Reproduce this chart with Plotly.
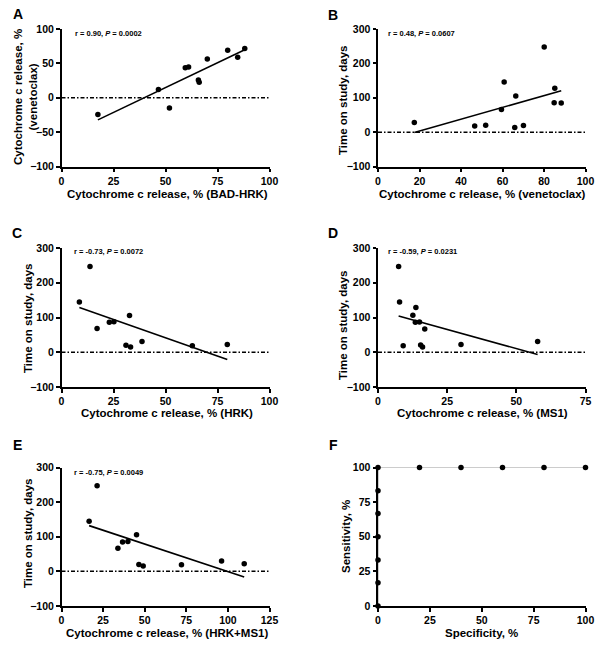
import numpy as np
import plotly.graph_objects as go

W, H = 604, 650

# ---------------- data ----------------
# Panel A: BAD-HRK vs venetoclax cytochrome c release (%)
a_x = [17.5, 46.6, 51.9, 59.5, 61.1, 65.8, 66.2, 70.1, 79.9, 84.7, 88.1]
a_y = [-24.2, 12.0, -14.9, 43.8, 44.7, 25.7, 22.7, 56.5, 69.2, 58.9, 71.6]
# Panel B: venetoclax release vs time on study (days)
b_x = [17.5, 46.6, 51.9, 59.5, 60.8, 65.9, 66.4, 70.1, 80.1, 85.2, 84.9, 88.3]
b_y = [28, 17.5, 20, 66, 145.6, 13.6, 105, 19.4, 247.6, 128, 85.4, 84.5]
# Panel C: HRK release vs time on study
c_x = [8.6, 13.7, 17.1, 23.0, 25.2, 32.7, 31.0, 33.2, 38.7, 62.9, 79.7]
c_y = [144.8, 246.5, 68, 86, 88, 106, 20, 15, 30.7, 19, 22]
# Panel D: MS1 release vs time on study
d_x = [7.45, 7.8, 9.1, 12.6, 13.7, 13.5, 15.0, 15.4, 16.1, 16.9, 30.0, 57.7]
d_y = [246.5, 144.8, 19, 106.5, 128.5, 86, 87, 21, 15, 67, 22, 30.7]
# Panel E: HRK+MS1 release vs time on study
e_x = [16.6, 21.4, 33.9, 36.7, 39.9, 45.1, 46.5, 49.1, 72.1, 96.2, 109.8]
e_y = [145, 247, 67, 84.6, 86.5, 105.8, 20, 15.4, 19, 30, 22]
# Panel F: ROC curve
f_spec = [0, 0, 0, 0, 0, 0, 0, 20, 40, 60, 80, 100]
f_sens = [0, 16.7, 33.3, 50, 66.7, 83.3, 100, 100, 100, 100, 100, 100]

stats = ["r = 0.90, <i>P</i> = 0.0002", "r = 0.48, <i>P</i> = 0.0607",
         "r = -0.73, <i>P</i> = 0.0072", "r = -0.59, <i>P</i> = 0.0231",
         "r = -0.75, <i>P</i> = 0.0049"]
letters = ["A", "B", "C", "D", "E", "F"]
xtitles = ["Cytochrome c release, % (BAD-HRK)", "Cytochrome c release, % (venetoclax)",
           "Cytochrome c release, % (HRK)", "Cytochrome c release, % (MS1)",
           "Cytochrome c release, % (HRK+MS1)", "Specificity, %"]
ytitles = ["Cytochrome c release, %<br>(venetoclax)", "Time on study, days",
           "Time on study, days", "Time on study, days",
           "Time on study, days", "Sensitivity, %"]
xranges = [[0, 100], [0, 100], [0, 100], [0, 75], [0, 125], [0, 100]]
yranges = [[-100, 100], [-100, 300], [-100, 300], [-100, 300], [-100, 300], [0, 100]]
xticks = [[0, 25, 50, 75, 100], [0, 20, 40, 60, 80, 100], [0, 25, 50, 75, 100],
          [0, 25, 50, 75], [0, 25, 50, 75, 100, 125], [0, 25, 50, 75, 100]]
yticks = [[-100, -50, 0, 50, 100], [-100, 0, 100, 200, 300], [-100, 0, 100, 200, 300],
          [-100, 0, 100, 200, 300], [-100, 0, 100, 200, 300], [0, 25, 50, 75, 100]]

# ---------------- layout geometry (pixels) ----------------
cols = [(61.5, 269.5), (378, 585.5)]
rows = [(29, 166.5), (248, 387), (467.5, 606)]
FONT = "Liberation Sans, Arial, sans-serif"

def px(x):
    return x / W

def py(y):
    return 1 - y / H

fig = go.Figure()
layout = dict(width=W, height=H, margin=dict(l=0, r=0, t=0, b=0),
              paper_bgcolor="white", plot_bgcolor="white", showlegend=False,
              font=dict(family=FONT, color="black"))
annotations = []
shapes = []

pairs = [(a_x, a_y), (b_x, b_y), (c_x, c_y), (d_x, d_y), (e_x, e_y)]

# label positions (pixels)
letter_pos = [(18, 14), (333, 15), (17, 233), (333, 233), (17, 445), (333, 445)]
stat_pos = [(73, 33), (386, 33), (72, 252), (386, 252), (72, 472)]
xt_pos = [(167, 194), (482, 194), (167, 413), (482, 413), (167, 633), (481, 633)]
yt_pos = [(25, 97), (343, 100), (28, 318), (343, 325), (28, 533), (346, 537)]

for i in range(6):
    r, c = divmod(i, 2)
    xa = "xaxis" if i == 0 else f"xaxis{i+1}"
    ya = "yaxis" if i == 0 else f"yaxis{i+1}"
    xr = "x" if i == 0 else f"x{i+1}"
    yr = "y" if i == 0 else f"y{i+1}"
    x0, x1 = cols[c]
    y0, y1 = rows[r]
    common = dict(showline=True, linecolor="black", linewidth=2, ticks="outside",
                  ticklen=3.5, tickwidth=1.5, tickcolor="black", showgrid=False,
                  zeroline=False, layer="below traces", automargin=False,
                  tickfont=dict(family=FONT, size=10.5, color="black", weight="bold"))
    layout[xa] = dict(domain=[px(x0), px(x1)], range=xranges[i], tickvals=xticks[i],
                      anchor=yr, **common)
    layout[ya] = dict(domain=[py(y1), py(y0)], range=yranges[i], tickvals=yticks[i],
                      anchor=xr, **common)

    if i < 5:
        xs, ys = pairs[i]
        slope, icpt = np.polyfit(xs, ys, 1)
        lx = np.array([min(xs), max(xs)])
        fig.add_trace(go.Scatter(x=lx, y=slope * lx + icpt, mode="lines",
                                 line=dict(color="black", width=1.6),
                                 xaxis=xr, yaxis=yr, hoverinfo="skip"))
        fig.add_trace(go.Scatter(x=xs, y=ys, mode="markers",
                                 marker=dict(color="black", size=5.5),
                                 xaxis=xr, yaxis=yr, cliponaxis=False))
        shapes.append(dict(type="line", xref=f"{xr} domain", yref=yr, x0=0, x1=1,
                           y0=0, y1=0, layer="below",
                           line=dict(color="black", width=1.5, dash="4px,2px,1.5px,2px")))
        sx, sy = stat_pos[i]
        annotations.append(dict(text=stats[i], x=px(sx), y=py(sy), xref="paper", yref="paper",
                                xanchor="left", yanchor="middle", showarrow=False,
                                font=dict(family=FONT, size=7.5, color="black", weight="bold")))
    else:
        fig.add_trace(go.Scatter(x=f_spec, y=f_sens, mode="lines+markers",
                                 line=dict(color="#999999", width=1),
                                 marker=dict(color="black", size=5.5),
                                 xaxis=xr, yaxis=yr, cliponaxis=False))

    lx_, ly_ = letter_pos[i]
    annotations.append(dict(text=letters[i], x=px(lx_), y=py(ly_), xref="paper", yref="paper",
                            xanchor="center", yanchor="middle", showarrow=False,
                            font=dict(family=FONT, size=14, color="black", weight="bold")))
    tx, ty = xt_pos[i]
    annotations.append(dict(text=xtitles[i], x=px(tx), y=py(ty), xref="paper", yref="paper",
                            xanchor="center", yanchor="middle", showarrow=False,
                            font=dict(family=FONT, size=11.5, color="black", weight="bold")))
    tx, ty = yt_pos[i]
    annotations.append(dict(text=ytitles[i], x=px(tx), y=py(ty), xref="paper", yref="paper",
                            xanchor="center", yanchor="middle", showarrow=False, textangle=-90,
                            font=dict(family=FONT, size=11.5, color="black", weight="bold")))

layout["annotations"] = annotations
layout["shapes"] = shapes
fig.update_layout(**layout)
fig.write_html("out.html", config={"displayModeBar": False},
               post_script="document.body.style.margin='0px';")
